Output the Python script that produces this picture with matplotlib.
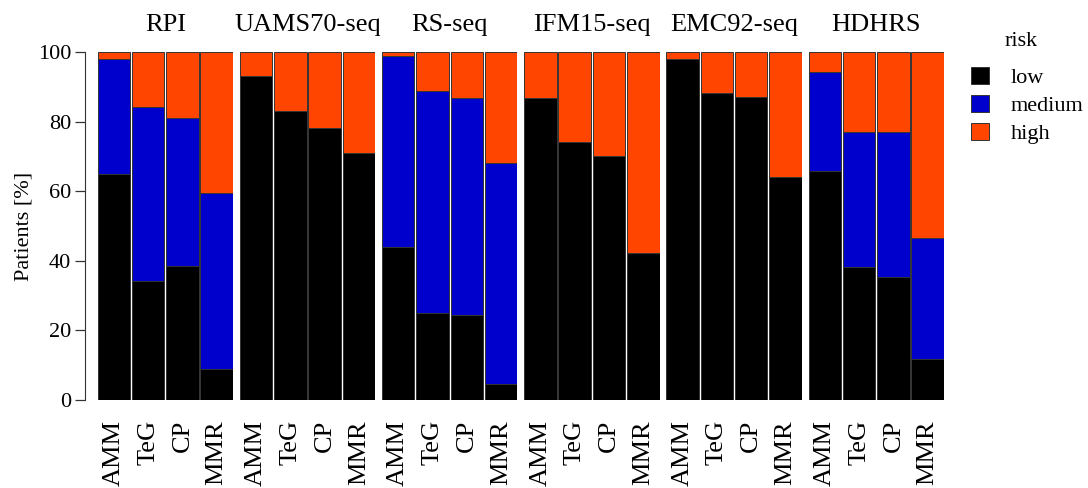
import matplotlib
matplotlib.use("Agg")
import matplotlib.pyplot as plt
from matplotlib.patches import Patch
import numpy as np

plt.rcParams['font.family'] = ['Liberation Serif', 'DejaVu Serif']

# data (percent of patients)
scores = ['RPI', 'UAMS70-seq', 'RS-seq', 'IFM15-seq', 'EMC92-seq', 'HDHRS']
methods = ['AMM', 'TeG', 'CP', 'MMR']
risk_levels = ['low', 'medium', 'high']
colors = ['#000000', '#0000CC', '#FF4500']

low = [
    [65.0, 34.1, 38.6, 8.9],
    [93.1, 83.0, 78.2, 71.1],
    [43.9, 25.0, 24.4, 4.7],
    [86.8, 74.0, 70.1, 42.2],
    [98.0, 88.2, 87.2, 64.0],
    [65.7, 38.3, 35.4, 11.8],
]
medium = [
    [32.9, 50.1, 42.5, 50.6],
    [0, 0, 0, 0],
    [54.9, 63.9, 62.4, 63.5],
    [0, 0, 0, 0],
    [0, 0, 0, 0],
    [28.6, 38.6, 41.6, 34.8],
]
high = [[100 - l - m for l, m in zip(lr, mr)] for lr, mr in zip(low, medium)]

fig = plt.figure(figsize=(10.88, 4.88), dpi=100)

W, H = 1088, 488
left_px, panel_w, stride = 97.5, 135.5, 142.2
bottom_px, top_px = 400, 52
bw = 0.95
x = np.arange(len(methods))

for i, score in enumerate(scores):
    l = (left_px + i * stride) / W
    ax = fig.add_axes([l, 1 - bottom_px / H, panel_w / W, (bottom_px - top_px) / H])
    base = np.zeros(len(methods))
    for vals, c in zip([low[i], medium[i], high[i]], colors):
        ax.bar(x, vals, bw, bottom=base, color=c, edgecolor='#333333', linewidth=0.7)
        base = base + np.array(vals)
    ax.set_xlim(-bw / 2, len(methods) - 1 + bw / 2)
    ax.set_ylim(0, 100)
    for s in ax.spines.values():
        s.set_visible(False)
    ax.set_xticks(x)
    ax.set_xticklabels(methods, rotation=90, fontsize=19)
    ax.tick_params(axis='x', length=0, pad=14.5)
    ax.set_title(score, fontsize=19, pad=15)
    if i == 0:
        ax.spines['left'].set_visible(True)
        ax.spines['left'].set_position(('outward', 9))
        ax.spines['left'].set_bounds(0, 100)
        ax.spines['left'].set_color('#333333')
        ax.set_yticks([0, 20, 40, 60, 80, 100])
        ax.tick_params(axis='y', length=7, width=0.9, color='#333333', labelsize=16, pad=3)
        ax.set_ylabel('Patients [%]', fontsize=16, labelpad=3)
    else:
        ax.set_yticks([])

handles = [Patch(facecolor=c, edgecolor='#333333', linewidth=0.7, label=r)
           for c, r in zip(colors, risk_levels)]
fig.legend(handles=handles, loc='upper left', bbox_to_anchor=(962 / W, 1 - 58 / H),
           frameon=False, fontsize=16, handlelength=0.8, handleheight=0.8,
           handletextpad=1.0, labelspacing=0.3, borderaxespad=0)
fig.text(1021 / W, 1 - 42 / H, 'risk', fontsize=16, ha='center', va='center')

fig.savefig('out.png', dpi=100)
